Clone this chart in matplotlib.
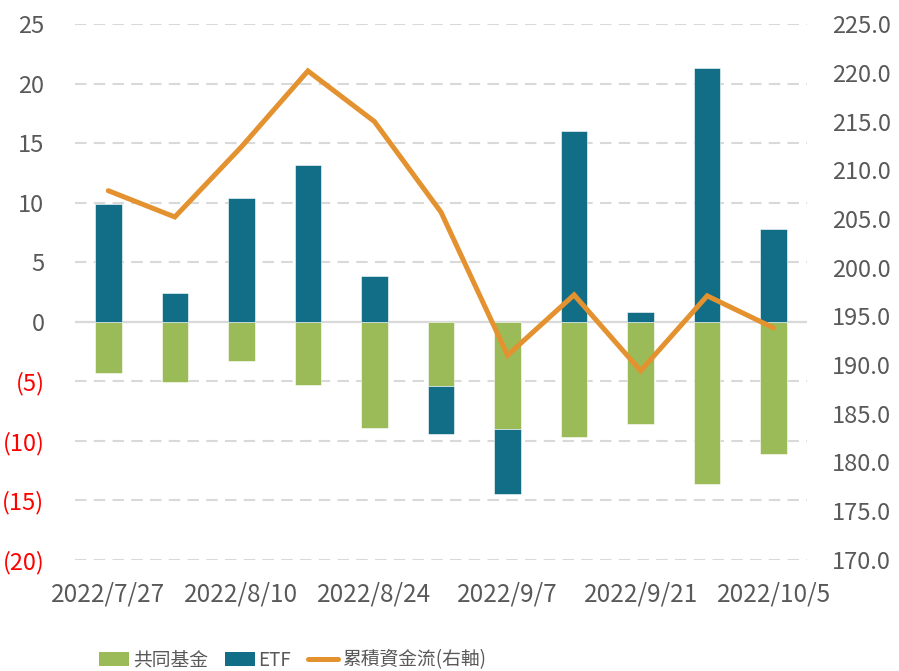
import matplotlib
matplotlib.use("Agg")
import matplotlib.pyplot as plt
from matplotlib.patches import Patch
from matplotlib.lines import Line2D
import numpy as np

dates = ['2022/7/27', '2022/8/3', '2022/8/10', '2022/8/17', '2022/8/24', '2022/8/31',
         '2022/9/7', '2022/9/14', '2022/9/21', '2022/9/28', '2022/10/5']
fund = [-4.3, -5.1, -3.3, -5.3, -8.9, -5.4, -9.0, -9.7, -8.6, -13.6, -11.1]
etf = [9.9, 2.4, 10.4, 13.2, 3.8, -4.0, -5.5, 16.0, 0.8, 21.3, 7.8]
cum = [207.9, 205.2, 212.4, 220.2, 215.0, 205.7, 191.0, 197.2, 189.4, 197.1, 193.8]
left_ticks = [25, 20, 15, 10, 5, 0, -5, -10, -15, -20]
right_ticks = [225, 220, 215, 210, 205, 200, 195, 190, 185, 180, 175, 170]
legend_labels = ['共同基金', 'ETF', '累積資金流(右軸)']

GREEN = '#9BBB59'
TEAL = '#116E86'
ORANGE = '#E3922F'
GREY_TXT = '#595959'
GRID = '#D9D9D9'
plt.rcParams['font.family'] = ['Noto Sans CJK TC', 'DejaVu Sans']

W, H = 899, 671
fig = plt.figure(figsize=(W / 100, H / 100), dpi=100)
L, R, T, B = 75, 807, 24.2, 559.7
ax = fig.add_axes([L / W, 1 - B / H, (R - L) / W, (B - T) / H])

x = np.arange(len(dates))
ax.bar(x, fund, width=0.4, color=GREEN, zorder=2, edgecolor='white', linewidth=0.4)
etf_bottom = [f if (e < 0 and f < 0) else 0 for e, f in zip(etf, fund)]
ax.bar(x, etf, width=0.4, bottom=etf_bottom, color=TEAL, zorder=2, edgecolor='white', linewidth=0.4)

ax.set_xlim(-0.5, len(dates) - 0.5)
ax.set_ylim(-20, 25)
ax.set_yticks(left_ticks)
ax.set_yticklabels([f'({abs(v)})' if v < 0 else f'{v}' for v in left_ticks])
for lbl, v in zip(ax.get_yticklabels(), left_ticks):
    lbl.set_color('#FF0000' if v < 0 else GREY_TXT)
for v in left_ticks:
    if v == 0:
        ax.axhline(v, color=GRID, lw=1.6, zorder=1)
    else:
        ax.axhline(v, color=GRID, lw=1.5, dashes=(5.5, 3.5), zorder=1)

ax.set_xticks(x[::2])
ax.set_xticklabels(dates[::2])
ax.tick_params(axis='x', length=0, pad=16, labelsize=17.5, labelcolor=GREY_TXT)
ax.tick_params(axis='y', length=0, pad=22, labelsize=17)
for s in ax.spines.values():
    s.set_visible(False)

ax2 = ax.twinx()
ax2.plot(x, cum, color=ORANGE, lw=3.6, solid_capstyle='round', solid_joinstyle='miter', zorder=3)
ax2.set_ylim(170, 225)
ax2.set_yticks(right_ticks)
ax2.set_yticklabels([f'{v:.1f}' for v in right_ticks])
ax2.tick_params(axis='y', length=0, pad=18, labelsize=17, labelcolor=GREY_TXT)
for s in ax2.spines.values():
    s.set_visible(False)

handles = [Patch(facecolor=GREEN), Patch(facecolor=TEAL),
           Line2D([0], [0], color=ORANGE, lw=3.6, solid_capstyle='round')]
fig.legend(handles, legend_labels, loc='center left', bbox_to_anchor=(99 / W, 1 - 660 / H),
           ncol=3, frameon=False, fontsize=13.5, handlelength=1.6, handleheight=0.75,
           handletextpad=0.2, columnspacing=0.9, borderpad=0, borderaxespad=0,
           labelcolor=GREY_TXT)

fig.savefig('out.png', dpi=100)
